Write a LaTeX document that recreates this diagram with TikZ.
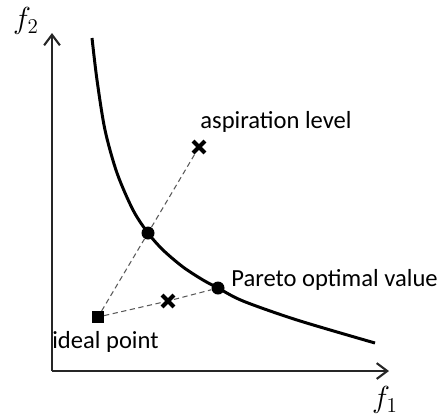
\documentclass[tikz,border=0pt]{standalone}
\usepackage{fontspec}
\setmainfont{Carlito}
\usepackage{tikz}
\usetikzlibrary{arrows.meta, shapes.misc}
\tikzset{
  axis/.style={-{Straight Barb[length=6pt, width=9pt]}, line width=1.2pt, black!85},
  front/.style={line width=1.7pt, black},
  guide/.style={dashed, dash pattern=on 3pt off 2pt, line width=0.6pt, black!65},
  dot/.style={circle, fill=black, inner sep=0pt, minimum size=7.4pt},
  ideal/.style={rectangle, fill=black, inner sep=0pt, minimum size=6.5pt},
  xmark/.style={cross out, draw=black, line width=2.3pt, inner sep=0pt, minimum size=4.4pt},
  lbl/.style={font=\fontsize{14}{17}\selectfont, inner sep=0pt},
  axlbl/.style={font=\fontsize{17}{20}\selectfont, inner sep=0pt},
}
\begin{document}
\begin{tikzpicture}[x=0.02cm, y=-0.02cm]
  \useasboundingbox (0,0) rectangle (439,414);

  % Axes
  \coordinate (o)    at (52,371);
  \coordinate (ytop) at (52,33);
  \coordinate (xend) at (389,371);
  \draw[axis] (o) -- (ytop);
  \draw[axis] (o) -- (xend);
  \node[axlbl] (f2) at (26,21)  {$f_2$};
  \node[axlbl] (f1) at (385,400) {$f_1$};

  % Pareto front
  \draw[front] plot[smooth, tension=0.5] coordinates {
    (92,38) (97,80) (105,130) (117,173) (133,210) (148,233)
    (163,250) (183,267) (203,280) (218,288) (243,301)
    (297,320) (375,343)};

  % Points
  \node[ideal] (ip)   at (98,317)  {};
  \node[xmark] (asp)  at (199,147) {};
  \node[dot]   (pa)   at (148,233) {};
  \node[xmark] (mid)  at (168,301) {};
  \node[dot]   (pb)   at (218,288) {};

  % Guides
  \draw[guide] (ip) -- (pa) -- (asp);
  \draw[guide] (ip) -- (mid) -- (pb);

  % Labels
  \node[lbl, anchor=west] (asplbl) at (200,122) {aspiration level};
  \node[lbl, anchor=west] (parlbl) at (231,280) {Pareto optimal value};
  \node[lbl, anchor=west] (iplbl)  at (52,342)  {ideal point};
\end{tikzpicture}
\end{document}
